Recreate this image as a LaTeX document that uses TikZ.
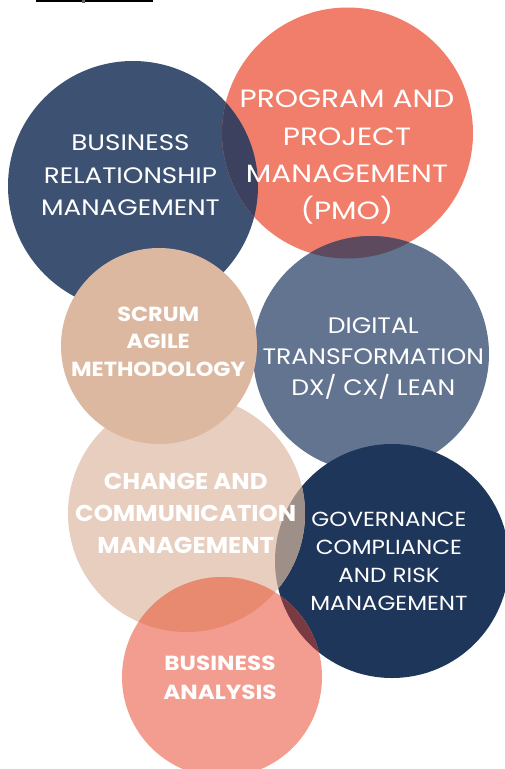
\documentclass[tikz,border=0pt]{standalone}
\usepackage{fontspec}
\setmainfont{Poppins}
\newfontfamily\fBRM[FakeStretch=1.17]{Poppins}
\newfontfamily\fPMO[FakeStretch=1.185]{Poppins}
\newfontfamily\fSCR[FakeStretch=1.10]{Poppins}
\newfontfamily\fDX[FakeStretch=1.12]{Poppins}
\newfontfamily\fCHG[FakeStretch=1.065]{Poppins}
\newfontfamily\fGOV[FakeStretch=1.13]{Poppins}
\newfontfamily\fBA[FakeStretch=1.135]{Poppins}
\definecolor{cBRM}{HTML}{3D5273}
\definecolor{cPMO}{HTML}{F07E6B}
\definecolor{cScrum}{HTML}{DCB8A0}
\definecolor{cDX}{HTML}{62748F}
\definecolor{cChg}{HTML}{E7CEBF}
\definecolor{cGov}{HTML}{1F365B}
\definecolor{cBA}{HTML}{F29D8F}
\definecolor{oBP}{HTML}{3C4160}
\definecolor{oPD}{HTML}{5D4A5F}
\definecolor{oCG}{HTML}{9F8F89}
\definecolor{oBC}{HTML}{E88A70}
\definecolor{oBG}{HTML}{7A3A42}
\tikzset{
  disc/.style={circle, inner sep=0pt, outer sep=0pt, draw=none},
  lbl/.style={text=white, align=center, inner sep=0pt, anchor=base},
}
\begin{document}
\begin{tikzpicture}[x=1pt,y=-1pt]
\useasboundingbox (0,0) rectangle (505,769);
\clip (0,0) rectangle (505,769);
\fill[white] (0,0) rectangle (505,769);
% top underline fragment
\fill[black] (36,0) rectangle (153,1.8);
\fill[black!60] (82,0) rectangle (85,3);
% circles
\coordinate (cbrm) at (133,186);
\coordinate (cpmo) at (347.5,133);
\coordinate (cdx) at (371,354);
\coordinate (cgov) at (392,561);
\coordinate (cchg) at (186.5,513.5);
\coordinate (cba) at (222,677);
\coordinate (cscr) at (159,346);
\node[disc, fill=cBRM, minimum size=250pt] (brm) at (cbrm) {};
\node[disc, fill=cPMO, minimum size=251pt] (pmo) at (cpmo) {};
\node[disc, fill=cDX, minimum size=236pt] (dx) at (cdx) {};
\node[disc, fill=cGov, minimum size=234pt] (gov) at (cgov) {};
\node[disc, fill=cChg, minimum size=237pt] (chg) at (cchg) {};
\node[disc, fill=cBA, minimum size=200pt] (ba) at (cba) {};
% overlaps
\begin{scope}
  \clip (cbrm) circle (125pt);
  \fill[oBP] (cpmo) circle (125.5pt);
\end{scope}
\begin{scope}
  \clip (cpmo) circle (125.5pt);
  \fill[oPD] (cdx) circle (118pt);
\end{scope}
\begin{scope}
  \clip (cchg) circle (118.5pt);
  \fill[oCG] (cgov) circle (117pt);
\end{scope}
\begin{scope}
  \clip (cba) circle (100pt);
  \fill[oBC] (cchg) circle (118.5pt);
\end{scope}
\begin{scope}
  \clip (cba) circle (100pt);
  \fill[oBG] (cgov) circle (117pt);
\end{scope}
\node[disc, fill=cScrum, minimum size=196pt] (scr) at (cscr) {};
% labels (anchor base = last line baseline)
\node[lbl, font={\fBRM\fontsize{22.4}{32.5}\selectfont}] (tbrm) at (130.5,215.7) {BUSINESS\\RELATIONSHIP\\MANAGEMENT};
\node[lbl, font={\fPMO\fontsize{25}{37.2}\selectfont}] (tpmo) at (347,219.5) {PROGRAM AND\\PROJECT\\MANAGEMENT\\(PMO)};
\node[lbl, font={\fSCR\bfseries\fontsize{20.4}{27.8}\selectfont}] (tscr) at (158.3,376.7) {SCRUM\\AGILE\\METHODOLOGY};
\node[lbl, font={\fDX\fontsize{22.4}{30.9}\selectfont}] (tdx) at (373.3,395.7) {DIGITAL\\TRANSFORMATION\\DX/ CX/ LEAN};
\node[lbl, font={\fCHG\bfseries\fontsize{22.9}{31.7}\selectfont}] (tchg) at (185.7,553.3) {CHANGE AND\\COMMUNICATION\\MANAGEMENT};
\node[lbl, font={\fGOV\fontsize{20.4}{28.2}\selectfont}] (tgov) at (389,610.7) {GOVERNANCE\\COMPLIANCE\\AND RISK\\MANAGEMENT};
\node[lbl, font={\fBA\bfseries\fontsize{20.4}{29}\selectfont}] (tba) at (220,699) {BUSINESS\\ANALYSIS};
\end{tikzpicture}
\end{document}
